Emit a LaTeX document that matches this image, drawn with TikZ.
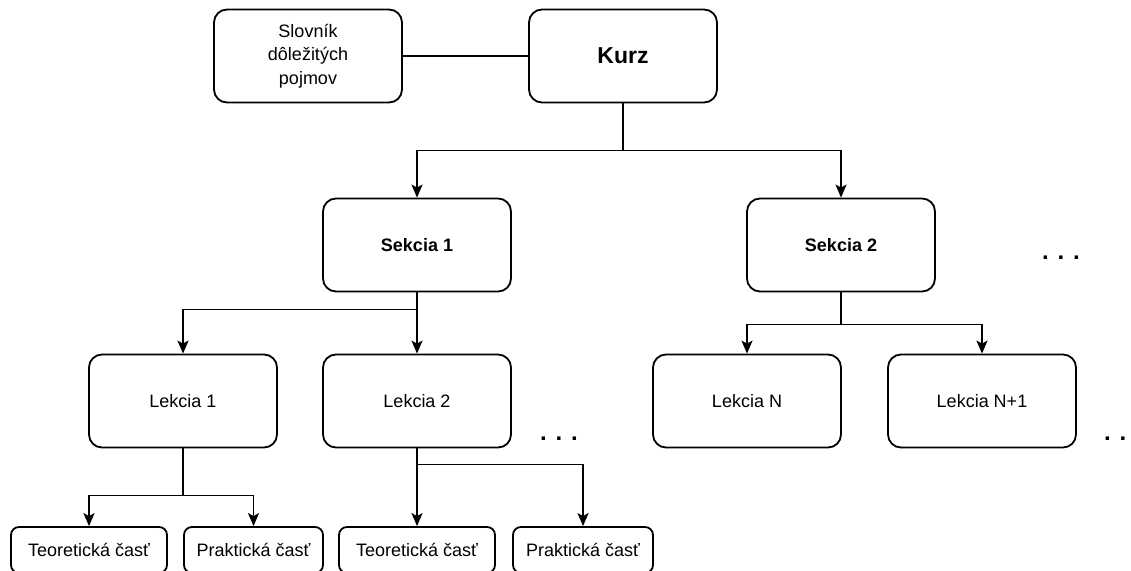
\documentclass[tikz,border=0pt]{standalone}
\usepackage{fontspec}
\setmainfont{Liberation Sans}
\usetikzlibrary{arrows.meta}

\begin{document}
\begin{tikzpicture}[x=1pt,y=-1pt,
    box/.style={draw, line width=1.8pt, rounded corners=13pt,
      minimum width=188pt, minimum height=93pt, inner sep=0pt,
      align=center, font=\fontsize{18}{23.5}\selectfont},
    boldbox/.style={box, font=\bfseries\fontsize{18}{22}\selectfont},
    part/.style={draw, line width=1.8pt, rounded corners=8pt,
      minimum height=46pt, inner sep=0pt, font=\fontsize{18}{22}\selectfont},
    link/.style={line width=1.8pt},
    arrow/.style={line width=1.8pt, -{Stealth[length=13pt,width=11pt,inset=3pt]}},
    more/.style={inner sep=0pt, font=\bfseries\fontsize{24}{24}\selectfont}]
  \useasboundingbox (0,0) rectangle (1131,570);
  % top row
  \node[box] (slovnik) at (308,56) {Slovník\\dôležitých\\pojmov};
  \node[box, font=\bfseries\fontsize{23}{27}\selectfont] (kurz) at (623,56) {Kurz};
  % sections
  \node[boldbox] (sekcia1) at (417,245) {Sekcia 1};
  \node[boldbox] (sekcia2) at (841,245) {Sekcia 2};
  % lessons
  \node[box] (lekcia1) at (183,401) {Lekcia 1};
  \node[box] (lekcia2) at (417,401) {Lekcia 2};
  \node[box] (lekciaN) at (747,401) {Lekcia N};
  \node[box] (lekciaN1) at (982,401) {Lekcia N+1};
  % parts
  \node[part, minimum width=156pt] (teor1) at (89,550) {Teoretická časť};
  \node[part, minimum width=139pt] (prakt1) at (253.5,550) {Praktická časť};
  \node[part, minimum width=156pt] (teor2) at (417,550) {Teoretická časť};
  \node[part, minimum width=140pt] (prakt2) at (583,550) {Praktická časť};
  % more
  \node[more] (more1) at (1061,258) {. . .};
  \node[more] (more2) at (559,439) {. . .};
  \node[more] (more3) at (1123,439) {. . .};

  \draw[link]
    (slovnik)
    --
    (kurz);
  \draw[arrow]
    (kurz.south)
    -- ++(0,47)
    -| (sekcia1.north);
  \draw[arrow]
    (kurz.south)
    -- ++(0,47)
    -| (sekcia2.north);
  \draw[arrow]
    (sekcia1.south)
    -- ++(0,17)
    -| (lekcia1.north);
  \draw[arrow]
    (sekcia1)
    --
    (lekcia2);
  \draw[arrow]
    (sekcia2.south)
    -- ++(0,32)
    -| (lekciaN.north);
  \draw[arrow]
    (sekcia2.south)
    -- ++(0,32)
    -| (lekciaN1.north);
  \draw[arrow]
    (lekcia1.south)
    -- ++(0,47)
    -| (teor1.north);
  \draw[arrow]
    (lekcia1.south)
    -- ++(0,47)
    -| (prakt1.north);
  \draw[arrow]
    (lekcia2.south)
    -- ++(0,16)
    -| (teor2.north);
  \draw[arrow]
    (lekcia2.south)
    -- ++(0,16)
    -| (prakt2.north);
\end{tikzpicture}
\end{document}
